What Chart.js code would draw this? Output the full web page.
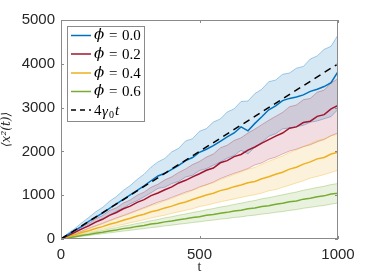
<!DOCTYPE html>
<html>
<head>
<meta charset="utf-8">
<script src="https://cdn.jsdelivr.net/npm/chart.js@4.4.1/dist/chart.umd.min.js"></script>
<style>
  html, body { margin: 0; padding: 0; background: #fff; }
  canvas { display: block; }
</style>
</head>
<body>
<canvas id="msd" width="374" height="280"></canvas>
<script>
// time axis
const tVals = [0,25,50,75,100,125,150,175,200,225,250,275,300,325,350,375,400,425,450,475,500,525,550,575,600,625,650,675,700,725,750,775,800,825,850,875,900,925,950,975,1000];

// phi = 0.0
const blueMean = [0,100,195,290,400,500,590,700,800,905,1010,1110,1215,1330,1440,1500,1590,1680,1790,1860,1980,2050,2130,2230,2330,2420,2560,2470,2640,2790,2950,3040,3160,3210,3240,3290,3370,3420,3480,3570,3820];
const blueHi = [0,130,240,370,490,620,720,860,970,1110,1220,1360,1480,1640,1760,1840,1990,2070,2240,2290,2460,2520,2670,2740,2900,2970,3140,3150,3320,3420,3590,3630,3760,3790,3900,3940,4110,4180,4330,4400,4660];
const blueLo = [0,70,155,220,315,380,465,545,635,705,805,875,965,1055,1155,1185,1265,1315,1415,1455,1565,1605,1685,1755,1845,1905,2025,1945,2095,2205,2345,2405,2515,2535,2565,2595,2665,2695,2745,2795,2960];

// phi = 0.2
const redMean = [0,80,150,232,300,385,450,540,605,690,750,835,900,990,1050,1125,1190,1280,1340,1420,1490,1570,1620,1740,1790,1880,1930,2030,2100,2190,2270,2350,2420,2530,2560,2660,2690,2800,2840,2970,3050];
const redHi = [0,98,174,280,356,460,535,650,712,820,892,1000,1070,1180,1250,1350,1420,1520,1600,1700,1770,1870,1940,2080,2140,2250,2310,2420,2510,2610,2710,2800,2890,3020,3060,3180,3210,3350,3400,3560,3660];
const redLo = [0,58,119,176,242,298,357,419,482,534,596,654,716,779,841,889,951,1009,1071,1119,1191,1239,1301,1379,1441,1499,1551,1609,1691,1739,1821,1869,1941,2009,2051,2109,2151,2219,2271,2359,2420];

// phi = 0.4
const orangeMean = [0,50,95,148,190,240,283,336,378,430,472,525,565,620,655,710,750,805,845,900,955,1005,1045,1105,1140,1195,1235,1285,1315,1375,1420,1480,1525,1595,1640,1710,1760,1830,1860,1940,1980];
const orangeHi = [0,62,114,181,230,296,344,414,460,531,577,646,694,764,809,876,924,996,1044,1111,1174,1236,1284,1356,1414,1476,1534,1596,1634,1706,1774,1836,1894,1976,2034,2106,2174,2246,2284,2356,2400];
const orangeLo = [0,37,78,113,154,186,227,260,300,333,371,404,441,477,513,544,586,619,656,689,741,769,811,849,881,914,951,984,1011,1049,1101,1129,1181,1229,1281,1329,1391,1429,1471,1519,1570];

// phi = 0.6
const greenMean = [0,28,52,81,104,133,155,185,207,237,258,288,310,340,360,391,410,441,460,490,510,540,558,590,608,640,656,692,708,744,760,795,815,850,870,910,930,965,985,1025,1045];
const greenHi = [0,35,64,100,128,164,193,230,258,294,321,356,384,419,446,482,509,544,571,605,633,667,694,729,755,790,816,852,878,917,943,977,1008,1042,1073,1112,1143,1177,1203,1242,1265];
const greenLo = [0,21,41,61,81,101,121,141,161,181,200,220,238,261,276,300,316,339,354,377,393,416,431,454,468,492,505,530,545,570,586,610,628,652,673,702,723,747,766,797,820];

// reference line 4*gamma0*t
const refT = [0,1000];
const refLine = [0,4000];

const phiVals = ['0.0', '0.2', '0.4', '0.6'];
const colors = ['#0072BD', '#A2142F', '#EDB120', '#77AC30'];
const fills = ['rgba(0,114,189,0.16)', 'rgba(162,20,47,0.14)', 'rgba(237,177,32,0.16)', 'rgba(119,172,48,0.16)'];
const edges = ['rgba(0,114,189,0.35)', 'rgba(162,20,47,0.3)', 'rgba(237,177,32,0.35)', 'rgba(119,172,48,0.35)'];

const means = [blueMean, redMean, orangeMean, greenMean];
const his = [blueHi, redHi, orangeHi, greenHi];
const los = [blueLo, redLo, orangeLo, greenLo];

function pts(xs, ys) {
    return xs.map((x, i) => ({x: x, y: ys[i]}));
}

const datasets = [];
// dashed reference on top
datasets.push({
    data: pts(refT, refLine),
    borderColor: '#000',
    borderWidth: 1.5,
    borderDash: [7, 5],
    fill: false,
    order: 0
});
for (let i = 0; i < 4; i++) {
    datasets.push({
        data: pts(tVals, means[i]),
        borderColor: colors[i],
        borderWidth: 1.5,
        fill: false,
        order: 1 + i
    });
}
for (let i = 0; i < 4; i++) {
    const idx = datasets.length;
    datasets.push({
        data: pts(tVals, his[i]),
        borderColor: edges[i],
        borderWidth: 1,
        backgroundColor: fills[i],
        fill: {target: idx + 1},
        order: 20 - 2 * i
    });
    datasets.push({
        data: pts(tVals, los[i]),
        borderColor: edges[i],
        borderWidth: 1,
        fill: false,
        order: 20 - 2 * i
    });
}

const framePlugin = {
    id: 'frame',
    afterDraw(chart) {
        const ctx = chart.ctx;
        const a = chart.chartArea;
        const xs = chart.scales.x, ys = chart.scales.y;
        ctx.save();
        ctx.strokeStyle = '#8a8a8a';
        ctx.lineWidth = 1;
        ctx.strokeRect(a.left + 0.5, a.top + 0.5, a.right - a.left - 1, a.bottom - a.top - 1);
        ctx.beginPath();
        xs.ticks.forEach(tk => {
            const px = Math.round(xs.getPixelForValue(tk.value)) + 0.5;
            ctx.moveTo(px, a.bottom); ctx.lineTo(px, a.bottom - 3);
            ctx.moveTo(px, a.top); ctx.lineTo(px, a.top + 3);
        });
        ys.ticks.forEach(tk => {
            const py = Math.round(ys.getPixelForValue(tk.value)) + 0.5;
            ctx.moveTo(a.left, py); ctx.lineTo(a.left + 3, py);
            ctx.moveTo(a.right, py); ctx.lineTo(a.right - 3, py);
        });
        ctx.stroke();

        // legend box
        const lx = 67, ly = 26, lw = 77, lh = 95;
        ctx.fillStyle = '#fff';
        ctx.fillRect(lx, ly, lw, lh);
        ctx.strokeStyle = '#8a8a8a';
        ctx.strokeRect(lx + 0.5, ly + 0.5, lw, lh);
        const rowY = [35.5, 54, 73, 91.5, 110];
        ctx.textBaseline = 'middle';
        for (let i = 0; i < 4; i++) {
            ctx.strokeStyle = colors[i];
            ctx.lineWidth = 1.5;
            ctx.beginPath();
            ctx.moveTo(71, rowY[i]); ctx.lineTo(91, rowY[i]);
            ctx.stroke();
            ctx.fillStyle = '#000';
            ctx.font = 'italic 15px "DejaVu Serif"';
            ctx.fillText('\u03D5', 94, rowY[i]);
            ctx.font = '15px "Liberation Serif"';
            ctx.fillText('=', 109, rowY[i] + 1);
            ctx.fillText(phiVals[i], 122, rowY[i] + 1);
        }
        ctx.strokeStyle = '#000';
        ctx.lineWidth = 1.5;
        ctx.setLineDash([5, 4]);
        ctx.beginPath();
        ctx.moveTo(71, rowY[4]); ctx.lineTo(91, rowY[4]);
        ctx.stroke();
        ctx.setLineDash([]);
        ctx.fillStyle = '#000';
        ctx.font = '15px "Liberation Serif"';
        ctx.fillText('4', 94, rowY[4] + 1);
        ctx.font = 'italic 15px "Liberation Serif"';
        ctx.fillText('\u03B3', 102, rowY[4] + 2);
        ctx.font = '10px "Liberation Serif"';
        ctx.fillText('0', 109, rowY[4] + 5);
        ctx.font = 'italic 15px "Liberation Serif"';
        ctx.fillText('t', 115, rowY[4] + 1);
        ctx.restore();
    }
};

new Chart(document.getElementById('msd'), {
    type: 'line',
    data: {datasets: datasets},
    options: {
        responsive: false,
        animation: false,
        layout: {padding: {left: 0, right: 36, top: 20, bottom: 0}},
        elements: {point: {radius: 0}, line: {tension: 0}},
        plugins: {legend: {display: false}, tooltip: {enabled: false}},
        scales: {
            x: {
                type: 'linear',
                min: 0, max: 1000,
                ticks: {stepSize: 500, color: '#262626', font: {family: 'Liberation Sans', size: 15}, padding: 7, maxRotation: 0,
                        callback: v => String(v)},
                grid: {display: false, drawTicks: false},
                border: {display: false},
                title: {display: true, text: 't', color: '#262626', font: {family: 'Liberation Serif', size: 14}, padding: {top: 0, bottom: 4}},
                afterFit: s => { s.height = 41; }
            },
            y: {
                min: 0, max: 5000,
                ticks: {stepSize: 1000, color: '#262626', font: {family: 'Liberation Sans', size: 15}, padding: 6,
                        callback: v => String(v)},
                grid: {display: false, drawTicks: false},
                border: {display: false},
                title: {display: true, text: '\u27E8x\u00B2(t)\u27E9', color: '#262626', font: {family: 'DejaVu Serif', size: 12, style: 'italic'}, padding: {top: 0, bottom: 0}},
                afterFit: s => { s.width = 61; }
            }
        }
    },
    plugins: [framePlugin]
});
</script>
</body>
</html>
